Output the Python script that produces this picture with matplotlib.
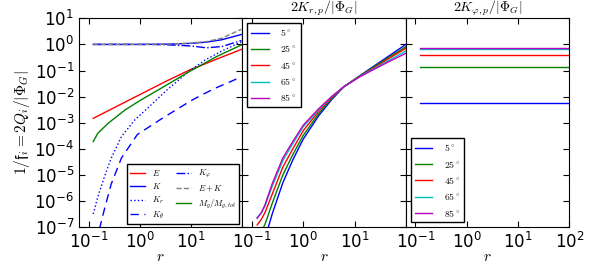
import numpy as np
import matplotlib
matplotlib.use("Agg")
import matplotlib.pyplot as plt

plt.rcParams['mathtext.fontset'] = 'cm'

# ---- data (log10 values) ----
# panel 1: energy ratios vs r
logr_E = [-0.91, -0.5, 0.0, 0.5, 1.0, 1.14, 1.5, 1.98]
logv_E = [-2.83, -2.42, -1.92, -1.42, -0.95, -0.85, -0.56, -0.19]

logr_M = [-0.91, -0.82, -0.62, -0.29, 0.0, 0.42, 1.0, 1.14, 1.5, 1.98]
logv_M = [-3.72, -3.40, -3.02, -2.51, -2.15, -1.67, -1.0, -0.85, -0.46, -0.02]

logr_K = [-0.91, 0.0, 0.5, 1.0, 1.3, 1.6, 1.98]
logv_K = [0.0, 0.0, 0.01, 0.04, 0.09, 0.18, 0.38]

logr_EK = [-0.91, 0.0, 0.5, 1.0, 1.3, 1.6, 1.98]
logv_EK = [0.0, 0.0, 0.01, 0.05, 0.11, 0.24, 0.58]

logr_Kphi = [-0.91, 0.0, 0.5, 1.0, 1.3, 1.6, 1.98]
logv_Kphi = [0.0, 0.0, -0.01, -0.06, -0.13, -0.08, 0.15]

logr_Kr = [-0.91, -0.82, -0.69, -0.56, -0.36, -0.10, 0.2, 0.53, 0.95, 1.27, 1.6, 1.98]
logv_Kr = [-6.49, -5.83, -5.06, -4.36, -3.53, -2.89, -2.35, -1.74, -1.04, -0.6, -0.25, 0.1]

logr_Kth = [-0.82, -0.78, -0.69, -0.56, -0.36, -0.05, 0.42, 1.0, 1.24, 1.5, 1.76, 1.98]
logv_Kth = [-7.6, -7.0, -6.3, -5.35, -4.35, -3.45, -2.85, -2.15, -1.9, -1.65, -1.43, -1.24]

# panel 2: 2K_rp/|Phi_G| for several inclinations
angles = [5, 25, 45, 65, 85]
logr_p = [-0.9, -0.82, -0.75, -0.6, -0.4, -0.2, 0.0, 0.3, 0.55, 0.79, 1.1, 1.4, 1.7, 2.0]
logv_p5 = [-8.4, -7.9, -7.45, -6.45, -5.3, -4.4, -3.62, -2.73, -2.12, -1.62, -1.2, -0.8, -0.4, 0.0]
logv_p25 = [-7.4, -7.15, -6.9, -6.05, -5.0, -4.2, -3.48, -2.65, -2.08, -1.62, -1.21, -0.83, -0.45, -0.09]
logv_p45 = [-6.91, -6.7, -6.45, -5.7, -4.7, -3.98, -3.3, -2.56, -2.04, -1.62, -1.22, -0.87, -0.5, -0.15]
logv_p65 = [-6.62, -6.45, -6.2, -5.4, -4.45, -3.78, -3.15, -2.5, -2.01, -1.62, -1.23, -0.9, -0.58, -0.25]
logv_p85 = [-6.66, -6.45, -6.15, -5.3, -4.35, -3.7, -3.09, -2.46, -2.0, -1.62, -1.24, -0.93, -0.63, -0.34]

# panel 3: 2K_phip/|Phi_G| (constant in r)
r_phi = [0.123, 100.0]
val_phi = [0.0057, 0.137, 0.384, 0.65, 0.75]

colors = ['b', 'g', 'r', 'c', 'm']


def p10(a):
    return 10.0 ** np.array(a)


fig = plt.figure(figsize=(5.98, 2.66), dpi=100)
fig.subplots_adjust(left=0.1321, right=0.952, bottom=0.1455, top=0.9312, wspace=0)
ax1 = fig.add_subplot(1, 3, 1)
ax2 = fig.add_subplot(1, 3, 2, sharey=ax1)
ax3 = fig.add_subplot(1, 3, 3, sharey=ax1)

lw = 1.0
ax1.plot(p10(logr_E), p10(logv_E), color='r', lw=lw, label='$E$')
ax1.plot(p10(logr_K), p10(logv_K), color='b', lw=lw, label='$K$')
ax1.plot(p10(logr_Kr), p10(logv_Kr), color='b', lw=lw, ls=':', label='$K_r$')
ax1.plot(p10(logr_Kth), p10(logv_Kth), color='b', lw=lw, ls=(0, (6, 4)), label=r'$K_\theta$')
ax1.plot(p10(logr_Kphi), p10(logv_Kphi), color='b', lw=lw, ls='-.', label=r'$K_\varphi$')
ax1.plot(p10(logr_EK), p10(logv_EK), color='gray', lw=lw, ls='--', label='$E+K$')
ax1.plot(p10(logr_M), p10(logv_M), color='g', lw=lw, label='$M_g/M_{g,tot}$')

for ang, lv, c in zip(angles, [logv_p5, logv_p25, logv_p45, logv_p65, logv_p85], colors):
    ax2.plot(p10(logr_p), p10(lv), color=c, lw=lw, label=r'$%d^\circ$' % ang)

for ang, v, c in zip(angles, val_phi, colors):
    ax3.plot(r_phi, [v, v], color=c, lw=lw, label=r'$%d^\circ$' % ang)

for ax in (ax1, ax2, ax3):
    ax.set_xscale('log')
    ax.set_yscale('log')
    ax.set_xlim(0.065, 100)
    ax.set_ylim(1e-7, 10)
    ax.set_xticks([0.1, 1, 10, 100])
    ax.tick_params(which='both', direction='in', top=True, right=True, labelsize=12)
    ax.tick_params(which='major', length=4)
    ax.tick_params(which='minor', length=2)
    ax.tick_params(axis='x', pad=3)
    ax.set_xlabel('$r$', fontsize=11, labelpad=-2)
    ax.set_yticks(10.0 ** np.arange(-7, 2))

# the 10^2 label of the first two panels sits under the next panel's 10^-1
for ax in (ax1, ax2):
    ax.set_xticklabels([r'$\mathdefault{10^{-1}}$', r'$\mathdefault{10^{0}}$',
                        r'$\mathdefault{10^{1}}$', ''])
plt.setp(ax2.get_yticklabels(), visible=False)
plt.setp(ax3.get_yticklabels(), visible=False)

ax1.set_ylabel(r'$1/\mathfrak{f}_i = 2Q_i/|\Phi_G|$', fontsize=11, labelpad=2)
ax2.set_title(r'$2K_{r,p}/|\Phi_G|$', fontsize=10, pad=0)
ax3.set_title(r'$2K_{\varphi,p}/|\Phi_G|$', fontsize=10, pad=0)

leg_kw = dict(fancybox=False, edgecolor='k', framealpha=1)
l1 = ax1.legend(loc='lower right', ncol=2, fontsize=6, labelspacing=0.4,
                handlelength=1.8, columnspacing=1.5, borderaxespad=0.4, **leg_kw)
l2 = ax2.legend(loc='upper left', fontsize=7, labelspacing=0.55, handlelength=1.8,
                handletextpad=1.2, borderaxespad=0.5, **leg_kw)
l3 = ax3.legend(loc='lower left', fontsize=7, labelspacing=0.55, handlelength=1.8,
                handletextpad=1.2, borderaxespad=0.5, **leg_kw)
for l in (l1, l2, l3):
    l.get_frame().set_linewidth(1.0)

fig.savefig('out.png', dpi=100)
